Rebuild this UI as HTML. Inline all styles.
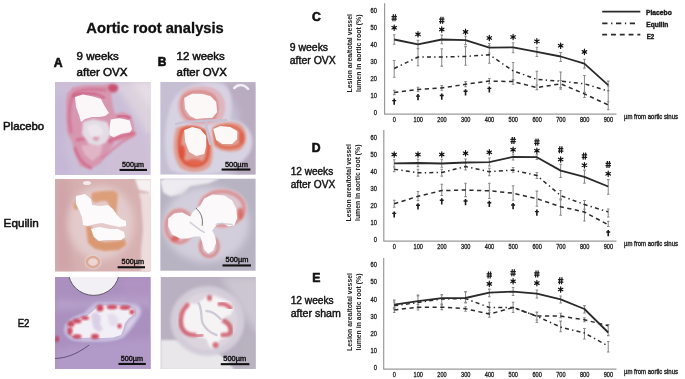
<!DOCTYPE html>
<html><head><meta charset="utf-8"><title>Aortic root analysis</title>
<style>
html,body{margin:0;padding:0;background:#fff;width:685px;height:379px;overflow:hidden}
svg{display:block;filter:blur(0.4px)}
text{font-family:"Liberation Sans",sans-serif}
</style></head><body>
<svg width="685" height="379" viewBox="0 0 685 379">
<defs><filter id="sb" x="-50%" y="-50%" width="200%" height="200%"><feGaussianBlur stdDeviation="0.45"/></filter></defs>
<rect width="685" height="379" fill="#fff"/>
<defs>
<filter id="b05" x="-20%" y="-20%" width="140%" height="140%"><feGaussianBlur stdDeviation="0.5"/></filter>
<filter id="b1" x="-20%" y="-20%" width="140%" height="140%"><feGaussianBlur stdDeviation="0.9"/></filter>
<filter id="b2" x="-30%" y="-30%" width="160%" height="160%"><feGaussianBlur stdDeviation="1.6"/></filter>
<filter id="b4" x="-50%" y="-50%" width="200%" height="200%"><feGaussianBlur stdDeviation="3.5"/></filter>

<clipPath id="cA1"><rect x="0" y="0" width="95.5" height="92.9"/></clipPath>
<clipPath id="cB1"><rect x="0" y="0" width="95.3" height="92.6"/></clipPath>
<clipPath id="cA2"><rect x="0" y="0" width="95.5" height="92.5"/></clipPath>
<clipPath id="cB2"><rect x="0" y="0" width="95.4" height="92.4"/></clipPath>
<clipPath id="cA3"><rect x="0" y="0" width="95.6" height="92"/></clipPath>
<clipPath id="cB3"><rect x="0" y="0" width="95.2" height="92"/></clipPath>
</defs>
<g transform="translate(55,82)"><g clip-path="url(#cA1)">
<rect x="0.0" y="0.0" width="100.0" height="100.0" fill="#cbbfd8" opacity="1"/>
<polygon points="58.0,0.0 100.0,0.0 100.0,75.0 88.0,45.0 72.0,20.0" fill="#dcd2de" opacity="1" filter="url(#b4)"/>
<polygon points="75.0,0.0 100.0,0.0 100.0,30.0" fill="#e6dde6" opacity="1" filter="url(#b4)"/>
<polygon points="0.0,20.0 8.0,10.0 10.0,40.0 8.0,70.0 18.0,90.0 0.0,93.0" fill="#c2b2d4" opacity="0.7" filter="url(#b4)"/>
<polygon points="12.0,12.0 18.0,5.0 30.0,3.0 48.0,3.0 55.0,2.0 63.0,4.0 62.0,10.0 56.0,12.0 58.0,25.0 60.0,32.0 68.0,30.0 75.0,33.0 78.0,40.0 80.0,50.0 78.0,56.0 70.0,58.0 60.0,60.0 52.0,72.0 45.0,82.0 35.0,87.0 25.0,84.0 20.0,72.0 17.0,60.0 12.0,50.0 11.0,35.0 11.0,20.0" fill="#d797af" opacity="1" filter="url(#b1)"/>
<ellipse cx="58.0" cy="6.0" rx="5.0" ry="4.0" fill="#c94a6c" opacity="0.9" filter="url(#b1)"/>
<path d="M16,50 C13,36 14,20 19,12 C24,7 36,7 50,8" fill="none" opacity="0.7" filter="url(#b1)" stroke="#cf6a8c" stroke-width="3.00" stroke-linecap="round" stroke-linejoin="round"/>
<path d="M18,14 C24,11 33,11 40,12 C44,13 47,14 49,16" fill="none" opacity="0.85" filter="url(#b1)" stroke="#c8476f" stroke-width="1.80" stroke-linecap="round" stroke-linejoin="round"/>
<path d="M22,58 C30,56 45,56 56,60 M20,66 C24,78 30,84 36,86" fill="none" opacity="0.7" filter="url(#b1)" stroke="#d15a7e" stroke-width="2.50" stroke-linecap="round" stroke-linejoin="round"/>
<polygon points="26.0,64.0 38.0,62.0 48.0,64.0 45.0,73.0 37.0,79.0 30.0,73.0" fill="#e2b9c9" opacity="0.9" filter="url(#b1)"/>
<polygon points="62.0,62.0 80.0,56.0 96.0,50.0 96.0,93.0 50.0,93.0 52.0,80.0" fill="#cfc0d8" opacity="0.8" filter="url(#b2)"/>
<path d="M47,76 C55,70 62,63 70,58 C74,55 77,53 80,52" fill="none" opacity="0.9" filter="url(#b1)" stroke="#d9819d" stroke-width="2.50" stroke-linecap="round" stroke-linejoin="round"/>
<polygon points="28.0,40.0 38.0,37.0 52.0,40.0 56.0,50.0 52.0,60.0 44.0,64.0 34.0,62.0 27.0,52.0" fill="#e3dce5" opacity="1" filter="url(#b1)"/>
<ellipse cx="41.0" cy="56.0" rx="3.0" ry="3.0" fill="#d98ca8" opacity="0.8" filter="url(#b1)"/>
<polygon points="20.0,15.0 28.0,12.5 38.0,14.5 46.0,17.0 49.0,23.0 52.0,28.0 54.0,31.0 50.0,34.0 44.0,35.0 37.0,35.0 30.0,37.0 26.0,40.0 24.0,33.0 21.0,25.0" fill="#fbf7f8" opacity="1" filter="url(#b05)"/>
<polygon points="55.8,37.5 64.3,35.9 74.8,38.6 77.0,47.0 74.8,50.7 66.4,51.8 59.0,55.5 54.5,53.0 54.8,43.8" fill="#fbf7f8" opacity="1" filter="url(#b05)"/>
<path d="M55,58 C62,56 70,53 79,51" fill="none" opacity="0.9" filter="url(#b1)" stroke="#d4587c" stroke-width="2.20" stroke-linecap="round" stroke-linejoin="round"/>
<path d="M63,34.5 C67,33 71,33.5 75,36" fill="none" opacity="0.9" filter="url(#b1)" stroke="#cf4f74" stroke-width="2.20" stroke-linecap="round" stroke-linejoin="round"/>
<polygon points="32.0,45.0 40.0,42.0 47.0,46.0 48.0,52.0 42.0,55.0 35.0,54.0" fill="#efe8ee" opacity="0.9" filter="url(#b1)"/>
</g>
<rect x="64.5" y="86.9" width="27.5" height="2.1" fill="#111"/><text x="67.0" y="84.8" font-size="6.3" fill="#111" stroke="#111" stroke-width="0.35" textLength="22.0" lengthAdjust="spacingAndGlyphs">500µm</text>
</g>
<g transform="translate(160.2,82)"><g clip-path="url(#cB1)">
<rect x="0.0" y="0.0" width="100.0" height="100.0" fill="#c6bfd3" opacity="1"/>
<polygon points="62.0,0.0 100.0,0.0 100.0,100.0 70.0,100.0 80.0,70.0 78.0,30.0" fill="#b9abc0" opacity="1" filter="url(#b4)"/>
<path d="M74,6 C78,2 84,2 88,7" fill="none" opacity="1" filter="url(#b05)" stroke="#f1eff4" stroke-width="2.50" stroke-linecap="round" stroke-linejoin="round"/>
<path d="M10,88 C2,70 4,40 12,20 C20,4 42,-2 62,2 C74,6 72,30 70,38 C84,38 94,50 92,63 C90,76 76,86 60,90 C45,94 25,94 10,88 Z" fill="#d8d3e2" opacity="1" filter="url(#b2)"/>
<path d="M28,41 C16,38 13,16 26,7 C38,2 54,3 61,12 C67,20 66,32 60,40 C50,44 38,44 28,41 Z" fill="#ddb6bf" opacity="1" filter="url(#b1)"/>
<path d="M16,46 C12,60 12,76 20,86 C30,92 44,91 50,84 C55,74 52,58 47,48 C38,42 24,42 16,46 Z" fill="#dfa097" opacity="1" filter="url(#b1)"/>
<path d="M52,46 C56,40 72,38 80,42 C88,48 88,62 80,68 C72,71 60,70 54,64 Z" fill="#dfa097" opacity="1" filter="url(#b1)"/>
<path d="M24,14 C30,9 44,8 52,13 C58,18 58,30 54,36 C46,40 34,40 27,36 C21,30 20,20 24,14 Z" fill="none" stroke="#dc8580" stroke-width="2.6" filter="url(#b1)" opacity="1"/>
<path d="M22,48 C18,58 18,72 24,80 C32,86 42,84 46,78 C50,68 48,56 44,50 C36,45 28,45 22,48 Z" fill="none" stroke="#e05a40" stroke-width="3.5" filter="url(#b1)" opacity="1"/>
<path d="M54,48 C60,43 72,43 78,47 C84,52 84,60 78,64 C70,67 60,66 56,61 Z" fill="none" stroke="#e06a50" stroke-width="3" filter="url(#b1)" opacity="1"/>
<ellipse cx="22.0" cy="70.0" rx="3.0" ry="7.0" fill="#e05038" opacity="0.9" filter="url(#b1)"/>
<ellipse cx="34.0" cy="80.0" rx="8.0" ry="3.0" fill="#e05a40" opacity="0.8" filter="url(#b1)"/>
<ellipse cx="47.0" cy="16.0" rx="2.5" ry="2.5" fill="#e0604a" opacity="0.9" filter="url(#b1)"/>
<ellipse cx="81.0" cy="56.0" rx="2.5" ry="6.0" fill="#e0604a" opacity="0.9" filter="url(#b1)"/>
<polygon points="24.0,16.0 32.0,11.7 42.0,12.0 50.0,14.0 56.0,20.0 57.0,30.0 52.0,36.0 44.0,36.0 36.0,37.0 30.0,34.0 25.0,27.0" fill="#fbf8f7" opacity="1" filter="url(#b05)"/>
<polygon points="24.0,48.0 32.0,45.0 40.0,47.0 46.0,54.0 46.0,64.0 44.0,72.0 36.0,74.0 29.0,70.0 25.0,60.0" fill="#fbf8f7" opacity="1" filter="url(#b05)"/>
<polygon points="53.0,47.0 60.0,44.0 70.0,45.0 77.0,49.0 77.0,57.0 72.0,62.0 62.0,62.0 56.0,58.0" fill="#fbf8f7" opacity="1" filter="url(#b05)"/>
<path d="M16,42 C26,38 36,40 44,39 C52,37 58,40 66,38 M46,39 C45,46 48,54 50,62" fill="none" opacity="1" filter="url(#b05)" stroke="#c7c1d3" stroke-width="2.40" stroke-linecap="round" stroke-linejoin="round"/>
</g>
<rect x="61.4" y="86.5" width="28.8" height="2.1" fill="#111"/><text x="64.7" y="84.6" font-size="6.3" fill="#111" stroke="#111" stroke-width="0.35" textLength="23.0" lengthAdjust="spacingAndGlyphs">500µm</text>
</g>
<g transform="translate(55,179)"><g clip-path="url(#cA2)">
<rect x="0.0" y="0.0" width="100.0" height="100.0" fill="#d7b1b2" opacity="1"/>
<polygon points="0.0,0.0 16.0,0.0 14.0,50.0 18.0,93.0 0.0,93.0" fill="#cca0a6" opacity="0.7" filter="url(#b4)"/>
<polygon points="84.0,14.0 100.0,14.0 100.0,93.0 86.0,93.0 86.0,72.0 88.0,50.0 86.0,22.0" fill="#ecdcdb" opacity="1" filter="url(#b1)"/>
<polygon points="80.0,0.0 100.0,0.0 100.0,18.0 95.0,17.0 94.0,13.0 84.0,11.0" fill="#f6f1f1" opacity="1" filter="url(#b1)"/>
<ellipse cx="32.0" cy="4.0" rx="4.0" ry="2.0" fill="#f3ecec" opacity="1"/>
<ellipse cx="46.0" cy="44.0" rx="33.0" ry="37.0" fill="#e3cbcb" opacity="1" filter="url(#b4)"/>
<polygon points="37.0,13.5 48.0,12.0 59.0,11.5 63.0,15.0 62.0,26.0 61.0,38.0 57.0,37.0 55.0,28.0 52.0,22.0 46.0,22.0 40.0,24.0 36.0,20.0" fill="#dc9f7a" opacity="1" filter="url(#b1)"/>
<ellipse cx="21.0" cy="27.0" rx="2.5" ry="4.0" fill="#dca07c" opacity="0.9" filter="url(#b1)"/>
<polygon points="31.0,47.0 36.0,47.0 39.0,56.0 42.0,61.0 50.0,63.0 62.0,62.0 70.0,60.0 71.0,66.0 64.0,71.0 50.0,72.0 40.0,70.0 33.0,64.0" fill="#da9872" opacity="1" filter="url(#b1)"/>
<polygon points="21.0,17.0 30.0,15.0 36.0,20.0 37.0,26.0 45.0,27.0 53.0,26.0 58.0,30.0 62.0,36.0 66.0,40.0 71.0,42.0 71.0,47.0 64.0,48.0 55.0,46.0 47.0,44.0 40.0,45.0 33.0,47.0 28.0,46.0 27.0,38.0 24.0,31.0 21.0,25.0" fill="#fcfafa" opacity="1"/>
<polygon points="36.0,50.0 44.0,48.0 55.0,50.0 63.0,50.0 69.0,53.0 70.0,58.0 66.0,61.0 58.0,61.0 50.0,61.0 44.0,62.0 39.0,58.0" fill="#fcfafa" opacity="1"/>
<ellipse cx="38.0" cy="83.0" rx="8.0" ry="7.0" fill="#ebdad8" opacity="0.9" filter="url(#b1)"/>
<ellipse cx="38.0" cy="83.0" rx="6.0" ry="5.0" fill="none" opacity="0.8" stroke="#d9a085" stroke-width="2.40"/>
</g>
<rect x="62.6" y="87.2" width="27.4" height="2.1" fill="#111"/><text x="66.6" y="84.5" font-size="6.3" fill="#111" stroke="#111" stroke-width="0.35" textLength="22.4" lengthAdjust="spacingAndGlyphs">500µm</text>
</g>
<g transform="translate(160.2,178.4)"><g clip-path="url(#cB2)">
<rect x="0.0" y="0.0" width="100.0" height="100.0" fill="#b8b3c3" opacity="1"/>
<polygon points="0.0,2.0 5.0,0.0 60.0,0.0 48.0,5.0 30.0,8.0 22.0,16.0 10.0,18.0 3.0,14.0" fill="#eeecf0" opacity="1" filter="url(#b1)"/>
<ellipse cx="46.0" cy="46.0" rx="43.0" ry="38.0" fill="#d2cedb" opacity="1" filter="url(#b4)"/>
<ellipse cx="19.0" cy="48.0" rx="16.0" ry="19.0" fill="#dcc8d0" opacity="1" filter="url(#b1)"/>
<ellipse cx="62.0" cy="30.0" rx="25.0" ry="20.0" fill="#dcc8d0" opacity="1" filter="url(#b1)"/>
<ellipse cx="49.0" cy="68.0" rx="11.0" ry="12.0" fill="#dcc8d0" opacity="1" filter="url(#b1)"/>
<ellipse cx="19.0" cy="48.0" rx="13.0" ry="16.0" fill="none" opacity="1" filter="url(#b1)" stroke="#d9959a" stroke-width="4.00"/>
<ellipse cx="62.0" cy="30.0" rx="22.0" ry="17.0" fill="none" opacity="1" filter="url(#b1)" stroke="#d9959a" stroke-width="4.00"/>
<ellipse cx="49.0" cy="68.0" rx="9.0" ry="10.0" fill="none" opacity="1" filter="url(#b1)" stroke="#d68a90" stroke-width="3.00"/>
<ellipse cx="15.0" cy="60.0" rx="4.0" ry="3.0" fill="#d9605a" opacity="0.9" filter="url(#b1)"/>
<ellipse cx="80.0" cy="35.0" rx="3.0" ry="6.0" fill="#d9605a" opacity="0.8" filter="url(#b1)"/>
<polygon points="8.0,40.0 14.0,35.0 22.0,34.0 30.0,38.0 33.0,33.0 40.0,27.0 44.0,20.0 52.0,16.0 64.0,17.0 72.0,22.0 76.0,30.0 77.0,40.0 74.0,47.0 68.0,48.0 62.0,44.0 56.0,47.0 52.0,52.0 55.0,58.0 56.0,64.0 53.0,72.0 48.0,75.0 44.0,71.0 42.0,64.0 40.0,58.0 34.0,58.0 28.0,60.0 20.0,60.0 12.0,56.0 8.0,48.0" fill="#fbf9fa" opacity="1" filter="url(#b05)"/>
<path d="M36,30 C41,34 43,40 42,47" fill="none" opacity="0.8" filter="url(#b05)" stroke="#3a3a44" stroke-width="0.90" stroke-linecap="round" stroke-linejoin="round"/>
<path d="M30,44 C35,48 40,52 44,54 M56,46 C60,44 66,46 72,46" fill="none" opacity="0.9" filter="url(#b05)" stroke="#cfcad6" stroke-width="1.50" stroke-linecap="round" stroke-linejoin="round"/>
</g>
<rect x="62.3" y="86.0" width="28.5" height="2.1" fill="#111"/><text x="65.4" y="83.8" font-size="6.3" fill="#111" stroke="#111" stroke-width="0.35" textLength="22.9" lengthAdjust="spacingAndGlyphs">500µm</text>
</g>
<g transform="translate(55,277)"><g clip-path="url(#cA3)">
<rect x="0.0" y="0.0" width="100.0" height="100.0" fill="#aa90bf" opacity="1"/>
<polygon points="0.0,72.0 40.0,66.0 100.0,60.0 100.0,100.0 0.0,100.0" fill="#b39ccb" opacity="0.8" filter="url(#b4)"/>
<polygon points="0.0,22.0 30.0,24.0 70.0,18.0 100.0,20.0 100.0,30.0 60.0,30.0 0.0,34.0" fill="#bba7cd" opacity="0.7" filter="url(#b4)"/>
<polygon points="65.0,0.0 100.0,0.0 100.0,25.0 70.0,22.0" fill="#b495c4" opacity="0.6" filter="url(#b4)"/>
<path d="M9,51 C10,44 20,38 29,36 C34,30 38,26 42,25.5 C55,25 70,25 80,26.5 C86,28 88,34 86,38 C80,48 74,56 68,61 C60,64 50,65 43,65 C32,65 22,65 16,63 C11,60 8,56 9,51 Z" fill="#c3b5db" opacity="1" filter="url(#b1)"/>
<path d="M12,51 C13,45 21,41 30,39 C35,33 39,29 43,28.5 C55,28 70,28 79,29.5 C84,31 85,35 83,38 C78,47 72,54 67,59 C60,61.5 50,62.5 43,62.5 C32,62.5 23,62.5 18,61 C13,58 11,55 12,51 Z" fill="#dcd3e6" opacity="1" filter="url(#b1)"/>
<ellipse cx="38.8" cy="-6.0" rx="25.5" ry="24.4" fill="#f2f0f4" opacity="1" stroke="#55505e" stroke-width="0.90"/>
<polygon points="13.0,50.0 18.0,44.0 26.0,41.0 32.0,39.0 38.0,34.0 43.0,29.0 52.0,28.5 62.0,28.5 72.0,29.5 79.0,32.0 80.0,37.0 74.0,41.0 70.0,46.0 68.0,53.0 66.0,58.0 58.0,60.5 48.0,61.0 42.0,61.0 36.0,60.5 28.0,61.0 20.0,60.0 15.0,57.0" fill="none" stroke="#c4b9dc" stroke-width="5" stroke-linejoin="round" opacity="1" filter="url(#b1)"/>
<polygon points="13.0,50.0 18.0,44.0 26.0,41.0 32.0,39.0 38.0,34.0 43.0,29.0 52.0,28.5 62.0,28.5 72.0,29.5 79.0,32.0 80.0,37.0 74.0,41.0 70.0,46.0 68.0,53.0 66.0,58.0 58.0,60.5 48.0,61.0 42.0,61.0 36.0,60.5 28.0,61.0 20.0,60.0 15.0,57.0" fill="#f3eff6" opacity="1"/>
<polygon points="36.0,37.0 42.0,35.0 46.0,40.0 45.0,47.0 48.0,52.0 44.0,55.0 39.0,52.0 37.0,45.0" fill="#d6cbe3" opacity="0.85" filter="url(#b1)"/>
<polygon points="52.0,38.0 58.0,36.0 64.0,42.0 61.0,49.0 55.0,49.0" fill="#dfd6e9" opacity="0.7" filter="url(#b1)"/>
<ellipse cx="16.0" cy="47.0" rx="3.5" ry="3.0" fill="#c93a52" opacity="0.9" filter="url(#b1)"/>
<ellipse cx="22.0" cy="44.0" rx="4.5" ry="2.5" fill="#c93a52" opacity="0.9" filter="url(#b1)"/>
<ellipse cx="30.0" cy="41.0" rx="4.0" ry="2.0" fill="#c93a52" opacity="0.9" filter="url(#b1)"/>
<ellipse cx="15.0" cy="54.0" rx="2.5" ry="4.0" fill="#c93a52" opacity="0.9" filter="url(#b1)"/>
<ellipse cx="22.0" cy="59.5" rx="4.5" ry="2.2" fill="#c93a52" opacity="0.9" filter="url(#b1)"/>
<ellipse cx="45.0" cy="31.0" rx="3.5" ry="3.5" fill="#c93a52" opacity="0.9" filter="url(#b1)"/>
<ellipse cx="57.0" cy="30.0" rx="5.5" ry="2.3" fill="#c93a52" opacity="0.9" filter="url(#b1)"/>
<ellipse cx="70.0" cy="30.5" rx="5.5" ry="2.3" fill="#c93a52" opacity="0.9" filter="url(#b1)"/>
<ellipse cx="77.0" cy="35.0" rx="2.5" ry="2.5" fill="#c93a52" opacity="0.9" filter="url(#b1)"/>
<ellipse cx="64.5" cy="49.0" rx="2.2" ry="2.5" fill="#c93a52" opacity="0.9" filter="url(#b1)"/>
<ellipse cx="40.0" cy="59.5" rx="4.0" ry="2.8" fill="#c93a52" opacity="0.9" filter="url(#b1)"/>
<ellipse cx="2.0" cy="62.0" rx="2.0" ry="3.0" fill="#c93a52" opacity="0.9" filter="url(#b1)"/>
<path d="M0,81.5 C10,81 20,78.5 33.8,68.3" fill="none" opacity="0.85" stroke="#4a3a66" stroke-width="0.90" stroke-linecap="round" stroke-linejoin="round"/>
</g>
<rect x="63.5" y="85.9" width="27.3" height="2.1" fill="#111"/><text x="65.8" y="84.2" font-size="6.3" fill="#111" stroke="#111" stroke-width="0.35" textLength="22.2" lengthAdjust="spacingAndGlyphs">500µm</text>
</g>
<g transform="translate(160.5,277)"><g clip-path="url(#cB3)">
<rect x="0.0" y="0.0" width="100.0" height="100.0" fill="#b9b1c1" opacity="1"/>
<polygon points="60.0,0.0 100.0,0.0 100.0,60.0 85.0,40.0 70.0,15.0" fill="#d0ccd6" opacity="0.8" filter="url(#b4)"/>
<polygon points="0.0,63.0 20.0,63.0 36.0,66.0 53.0,73.0 65.0,82.0 74.0,93.0 0.0,93.0" fill="#e9e7ea" opacity="1" filter="url(#b1)"/>
<polygon points="82.0,60.0 100.0,55.0 100.0,93.0 80.0,93.0" fill="#b9b4c0" opacity="0.6" filter="url(#b2)"/>
<ellipse cx="47.0" cy="44.0" rx="37.0" ry="35.0" fill="#d3cdd9" opacity="1" filter="url(#b2)"/>
<ellipse cx="47.0" cy="44.0" rx="30.0" ry="29.0" fill="#ddd6de" opacity="0.9" filter="url(#b1)"/>
<polygon points="22.0,30.0 28.0,26.0 36.0,27.0 40.0,24.0 46.0,20.0 54.0,19.0 62.0,22.0 70.0,25.0 73.0,32.0 70.0,38.0 64.0,40.0 60.0,46.0 66.0,48.0 70.0,54.0 66.0,60.0 60.0,62.0 56.0,68.0 52.0,72.0 48.0,68.0 46.0,62.0 40.0,60.0 32.0,58.0 25.0,54.0 21.0,46.0 20.0,38.0" fill="#f6f3f5" opacity="1" filter="url(#b1)"/>
<path d="M38,26 C42,32 40,40 42,46 C45,52 50,56 56,58 M46,34 C52,34 56,38 60,42" fill="none" opacity="1" stroke="#d0cad6" stroke-width="2.40" stroke-linecap="round" stroke-linejoin="round"/>
<path d="M27,28 C21,33 19,42 21,50 C23,55 28,58 34,58" fill="none" opacity="0.85" filter="url(#b1)" stroke="#cf5868" stroke-width="4.50" stroke-linecap="round" stroke-linejoin="round"/>
<path d="M36,59 C38,59 40,58 42,58" fill="none" opacity="0.8" filter="url(#b1)" stroke="#cf5868" stroke-width="3.00" stroke-linecap="round" stroke-linejoin="round"/>
<path d="M59,27 C63,26 67,28 70,31" fill="none" opacity="0.85" filter="url(#b1)" stroke="#cf5868" stroke-width="4.00" stroke-linecap="round" stroke-linejoin="round"/>
<path d="M64,44 C68,46 71,50 70,56 C68,58 65,58 62,58" fill="none" opacity="0.85" filter="url(#b1)" stroke="#cf5868" stroke-width="4.50" stroke-linecap="round" stroke-linejoin="round"/>
<ellipse cx="49.0" cy="21.0" rx="2.5" ry="3.0" fill="#cf5868" opacity="0.85" filter="url(#b1)"/>
<ellipse cx="55.0" cy="68.0" rx="3.0" ry="3.0" fill="#cf5868" opacity="0.85" filter="url(#b1)"/>
</g>
<rect x="60.3" y="86.1" width="28.6" height="2.1" fill="#111"/><text x="62.8" y="84.2" font-size="6.3" fill="#111" stroke="#111" stroke-width="0.35" textLength="22.9" lengthAdjust="spacingAndGlyphs">500µm</text>
</g>
<text x="86.3" y="33" font-size="15" font-weight="bold" textLength="137.5" lengthAdjust="spacingAndGlyphs" fill="#111" stroke="#111" stroke-width="0.3">Aortic root analysis</text>
<text x="53.8" y="66.9" font-size="12.3" font-weight="bold" fill="#111" stroke="#111" stroke-width="0.6">A</text>
<text x="157.8" y="66.3" font-size="12.0" font-weight="bold" fill="#111" stroke="#111" stroke-width="0.6">B</text>
<text x="76.6" y="59.8" font-size="11" textLength="42.2" lengthAdjust="spacingAndGlyphs" fill="#111" stroke="#111" stroke-width="0.5">9 weeks</text>
<text x="76.6" y="75.5" font-size="11" textLength="50.9" lengthAdjust="spacingAndGlyphs" fill="#111" stroke="#111" stroke-width="0.5">after OVX</text>
<text x="176.6" y="59.8" font-size="11" textLength="48.2" lengthAdjust="spacingAndGlyphs" fill="#111" stroke="#111" stroke-width="0.5">12 weeks</text>
<text x="176.6" y="75.5" font-size="11" textLength="50.2" lengthAdjust="spacingAndGlyphs" fill="#111" stroke="#111" stroke-width="0.5">after OVX</text>
<text x="3.0" y="129.9" font-size="11" textLength="41.2" lengthAdjust="spacingAndGlyphs" fill="#111" stroke="#111" stroke-width="0.5">Placebo</text>
<text x="3.6" y="226.5" font-size="11" textLength="35.2" lengthAdjust="spacingAndGlyphs" fill="#111" stroke="#111" stroke-width="0.5">Equilin</text>
<text x="17.7" y="326.5" font-size="11" textLength="11.8" lengthAdjust="spacingAndGlyphs" fill="#111" stroke="#111" stroke-width="0.5">E2</text>
<text x="312.0" y="20.5" font-size="12.2" font-weight="bold" fill="#111" stroke="#111" stroke-width="0.6">C</text>
<text x="311.8" y="151.7" font-size="12.2" font-weight="bold" fill="#111" stroke="#111" stroke-width="0.6">D</text>
<text x="312.3" y="282.0" font-size="12.2" font-weight="bold" fill="#111" stroke="#111" stroke-width="0.6">E</text>
<text x="289.8" y="51.1" font-size="10" textLength="38.3" lengthAdjust="spacingAndGlyphs" fill="#111" stroke="#111" stroke-width="0.4">9 weeks</text>
<text x="289.8" y="64.3" font-size="10" textLength="46" lengthAdjust="spacingAndGlyphs" fill="#111" stroke="#111" stroke-width="0.4">after OVX</text>
<text x="290.7" y="174.8" font-size="10" textLength="42.5" lengthAdjust="spacingAndGlyphs" fill="#111" stroke="#111" stroke-width="0.4">12 weeks</text>
<text x="290.7" y="187.6" font-size="10" textLength="44.5" lengthAdjust="spacingAndGlyphs" fill="#111" stroke="#111" stroke-width="0.4">after OVX</text>
<text x="290.7" y="304" font-size="10" textLength="43" lengthAdjust="spacingAndGlyphs" fill="#111" stroke="#111" stroke-width="0.4">12 weeks</text>
<text x="290.7" y="317.1" font-size="10" textLength="50.2" lengthAdjust="spacingAndGlyphs" fill="#111" stroke="#111" stroke-width="0.4">after sham</text>
<path d="M602.2,11.6H640.3" stroke="#2a2a2a" stroke-width="1.6"/>
<path d="M602.2,23.4H635" stroke="#2a2a2a" stroke-width="1.6" stroke-dasharray="5.3,3.6,1.3,3.6"/>
<path d="M602.2,34.6H640.3" stroke="#2a2a2a" stroke-width="1.6" stroke-dasharray="4.9,3.9"/>
<text x="646.0" y="14.8" font-size="7" font-weight="bold" textLength="25.8" lengthAdjust="spacingAndGlyphs" fill="#1a1a1a" stroke="#1a1a1a" stroke-width="0.4">Placebo</text>
<text x="646.3" y="27.0" font-size="7" font-weight="bold" textLength="22" lengthAdjust="spacingAndGlyphs" fill="#1a1a1a" stroke="#1a1a1a" stroke-width="0.4">Equilin</text>
<text x="646.7" y="38.5" font-size="7" font-weight="bold" textLength="7.6" lengthAdjust="spacingAndGlyphs" fill="#1a1a1a" stroke="#1a1a1a" stroke-width="0.4">E2</text>
<path d="M384.6,3.3V114.2H616.5" fill="none" stroke="#9a9a9a" stroke-width="1.2"/>
<text x="377" y="115.3" text-anchor="end" font-size="6.6" fill="#222" stroke="#222" stroke-width="0.3" textLength="3.2" lengthAdjust="spacingAndGlyphs">0</text>
<text x="377" y="98.3" text-anchor="end" font-size="6.6" fill="#222" stroke="#222" stroke-width="0.3" textLength="6.4" lengthAdjust="spacingAndGlyphs">10</text>
<text x="377" y="81.2" text-anchor="end" font-size="6.6" fill="#222" stroke="#222" stroke-width="0.3" textLength="6.4" lengthAdjust="spacingAndGlyphs">20</text>
<text x="377" y="64.2" text-anchor="end" font-size="6.6" fill="#222" stroke="#222" stroke-width="0.3" textLength="6.4" lengthAdjust="spacingAndGlyphs">30</text>
<text x="377" y="47.1" text-anchor="end" font-size="6.6" fill="#222" stroke="#222" stroke-width="0.3" textLength="6.4" lengthAdjust="spacingAndGlyphs">40</text>
<text x="377" y="30.1" text-anchor="end" font-size="6.6" fill="#222" stroke="#222" stroke-width="0.3" textLength="6.4" lengthAdjust="spacingAndGlyphs">50</text>
<text x="377" y="13.0" text-anchor="end" font-size="6.6" fill="#222" stroke="#222" stroke-width="0.3" textLength="6.4" lengthAdjust="spacingAndGlyphs">60</text>
<text x="394.4" y="122.4" text-anchor="middle" font-size="6.6" fill="#222" stroke="#222" stroke-width="0.3" textLength="3.1" lengthAdjust="spacingAndGlyphs">0</text>
<text x="418.2" y="122.4" text-anchor="middle" font-size="6.6" fill="#222" stroke="#222" stroke-width="0.3" textLength="9.4" lengthAdjust="spacingAndGlyphs">100</text>
<text x="442.0" y="122.4" text-anchor="middle" font-size="6.6" fill="#222" stroke="#222" stroke-width="0.3" textLength="9.4" lengthAdjust="spacingAndGlyphs">200</text>
<text x="465.7" y="122.4" text-anchor="middle" font-size="6.6" fill="#222" stroke="#222" stroke-width="0.3" textLength="9.4" lengthAdjust="spacingAndGlyphs">300</text>
<text x="489.5" y="122.4" text-anchor="middle" font-size="6.6" fill="#222" stroke="#222" stroke-width="0.3" textLength="9.4" lengthAdjust="spacingAndGlyphs">400</text>
<text x="513.3" y="122.4" text-anchor="middle" font-size="6.6" fill="#222" stroke="#222" stroke-width="0.3" textLength="9.4" lengthAdjust="spacingAndGlyphs">500</text>
<text x="537.1" y="122.4" text-anchor="middle" font-size="6.6" fill="#222" stroke="#222" stroke-width="0.3" textLength="9.4" lengthAdjust="spacingAndGlyphs">600</text>
<text x="560.9" y="122.4" text-anchor="middle" font-size="6.6" fill="#222" stroke="#222" stroke-width="0.3" textLength="9.4" lengthAdjust="spacingAndGlyphs">700</text>
<text x="584.6" y="122.4" text-anchor="middle" font-size="6.6" fill="#222" stroke="#222" stroke-width="0.3" textLength="9.4" lengthAdjust="spacingAndGlyphs">800</text>
<text x="608.4" y="122.4" text-anchor="middle" font-size="6.6" fill="#222" stroke="#222" stroke-width="0.3" textLength="9.4" lengthAdjust="spacingAndGlyphs">900</text>
<text x="624" y="118.9" font-size="6.6" fill="#222" stroke="#222" stroke-width="0.35" textLength="54" lengthAdjust="spacingAndGlyphs">µm from aortic sinus</text>
<path d="M394.20,34.80V44.30M392.90,34.80H395.50M392.90,44.30H395.50M417.98,40.20V48.60M416.68,40.20H419.28M416.68,48.60H419.28M441.76,35.10V43.80M440.46,35.10H443.06M440.46,43.80H443.06M465.54,36.20V44.60M464.24,36.20H466.84M464.24,44.60H466.84M489.32,43.50V52.90M488.02,43.50H490.62M488.02,52.90H490.62M513.10,42.70V52.70M511.80,42.70H514.40M511.80,52.70H514.40M536.88,47.20V56.40M535.58,47.20H538.18M535.58,56.40H538.18M560.66,52.40V61.40M559.36,52.40H561.96M559.36,61.40H561.96M584.44,59.20V68.10M583.14,59.20H585.74M583.14,68.10H585.74M608.22,81.10V90.60M606.92,81.10H609.52M606.92,90.60H609.52M394.20,60.50V77.20M392.90,60.50H395.50M392.90,77.20H395.50M417.98,48.60V65.80M416.68,48.60H419.28M416.68,65.80H419.28M441.76,48.70V66.10M440.46,48.70H443.06M440.46,66.10H443.06M465.54,46.60V65.20M464.24,46.60H466.84M464.24,65.20H466.84M489.32,45.80V63.20M488.02,45.80H490.62M488.02,63.20H490.62M513.10,62.40V80.30M511.80,62.40H514.40M511.80,80.30H514.40M536.88,71.30V89.50M535.58,71.30H538.18M535.58,89.50H538.18M560.66,71.90V89.10M559.36,71.90H561.96M559.36,89.10H561.96M584.44,75.40V92.70M583.14,75.40H585.74M583.14,92.70H585.74M608.22,85.90V101.70M606.92,85.90H609.52M606.92,101.70H609.52M394.20,90.20V94.60M392.90,90.20H395.50M392.90,94.60H395.50M417.98,87.20V91.40M416.68,87.20H419.28M416.68,91.40H419.28M441.76,85.60V90.30M440.46,85.60H443.06M440.46,90.30H443.06M465.54,81.60V86.70M464.24,81.60H466.84M464.24,86.70H466.84M489.32,78.40V83.80M488.02,78.40H490.62M488.02,83.80H490.62M513.10,79.50V84.30M511.80,79.50H514.40M511.80,84.30H514.40M536.88,85.00V89.80M535.58,85.00H538.18M535.58,89.80H538.18M560.66,80.50V87.50M559.36,80.50H561.96M559.36,87.50H561.96M584.44,92.20V97.50M583.14,92.20H585.74M583.14,97.50H585.74M608.22,101.70V109.70M606.92,101.70H609.52M606.92,109.70H609.52" fill="none" stroke="#8a8a8a" stroke-width="1.05"/>
<polyline points="394.2,92.6 418.0,89.4 441.8,88.0 465.5,84.3 489.3,81.1 513.1,81.6 536.9,87.6 560.7,83.8 584.4,93.9 608.2,104.9" fill="none" stroke="#2a2a2a" stroke-width="1.5" stroke-dasharray="4.2,3.5"/>
<polyline points="394.2,68.5 418.0,57.0 441.8,57.0 465.5,56.4 489.3,54.8 513.1,70.8 536.9,79.4 560.7,81.2 584.4,83.8 608.2,91.1" fill="none" stroke="#2a2a2a" stroke-width="1.5" stroke-dasharray="4,3.2,1.4,3.2"/>
<polyline points="394.2,39.5 418.0,44.3 441.8,39.5 465.5,40.2 489.3,47.7 513.1,47.3 536.9,51.8 560.7,56.5 584.4,63.7 608.2,85.1" fill="none" stroke="#2a2a2a" stroke-width="1.8" stroke-linejoin="round"/>
<path d="M394.20,25.00L394.20,30.40M391.98,26.42L396.42,28.98M396.42,26.42L391.98,28.98M417.98,31.60L417.98,37.00M415.76,33.02L420.20,35.58M420.20,33.02L415.76,35.58M441.76,26.80L441.76,32.20M439.54,28.22L443.98,30.78M443.98,28.22L439.54,30.78M465.54,29.20L465.54,34.60M463.32,30.62L467.76,33.18M467.76,30.62L463.32,33.18M489.32,35.30L489.32,40.70M487.10,36.72L491.54,39.28M491.54,36.72L487.10,39.28M513.10,34.30L513.10,39.70M510.88,35.72L515.32,38.28M515.32,35.72L510.88,38.28M536.88,38.60L536.88,44.00M534.66,40.02L539.10,42.58M539.10,40.02L534.66,42.58M560.66,43.00L560.66,48.40M558.44,44.42L562.88,46.98M562.88,44.42L558.44,46.98M584.44,49.20L584.44,54.60M582.22,50.62L586.66,53.18M586.66,50.62L582.22,53.18" fill="none" stroke="#111" stroke-width="1.2" stroke-linecap="round"/>
<circle cx="394.20" cy="27.70" r="1.1" fill="#111"/><circle cx="417.98" cy="34.30" r="1.1" fill="#111"/><circle cx="441.76" cy="29.50" r="1.1" fill="#111"/><circle cx="465.54" cy="31.90" r="1.1" fill="#111"/><circle cx="489.32" cy="38.00" r="1.1" fill="#111"/><circle cx="513.10" cy="37.00" r="1.1" fill="#111"/><circle cx="536.88" cy="41.30" r="1.1" fill="#111"/><circle cx="560.66" cy="45.70" r="1.1" fill="#111"/><circle cx="584.44" cy="51.90" r="1.1" fill="#111"/>
<path d="M393.40,14.30L392.90,21.30M395.50,14.30L395.00,21.30M391.50,16.60L396.90,16.60M391.50,19.00L396.90,19.00M440.96,16.80L440.46,23.80M443.06,16.80L442.56,23.80M439.06,19.10L444.46,19.10M439.06,21.50L444.46,21.50" fill="none" stroke="#1a1a1a" stroke-width="1.25"/>
<path d="M394.20,98.60L394.20,104.80M417.98,94.10L417.98,100.30M441.76,93.50L441.76,99.70M465.54,89.30L465.54,95.50M489.32,86.40L489.32,92.60" fill="none" stroke="#1a1a1a" stroke-width="1.6"/>
<path d="M392.20,100.58L396.20,100.58M415.98,96.08L419.98,96.08M439.76,95.48L443.76,95.48M463.54,91.28L467.54,91.28M487.32,88.38L491.32,88.38" fill="none" stroke="#1a1a1a" stroke-width="1.4"/>
<path d="M383.8,130V241.2H616.5" fill="none" stroke="#9a9a9a" stroke-width="1.2"/>
<text x="377" y="242.3" text-anchor="end" font-size="6.6" fill="#222" stroke="#222" stroke-width="0.3" textLength="3.2" lengthAdjust="spacingAndGlyphs">0</text>
<text x="377" y="225.2" text-anchor="end" font-size="6.6" fill="#222" stroke="#222" stroke-width="0.3" textLength="6.4" lengthAdjust="spacingAndGlyphs">10</text>
<text x="377" y="208.0" text-anchor="end" font-size="6.6" fill="#222" stroke="#222" stroke-width="0.3" textLength="6.4" lengthAdjust="spacingAndGlyphs">20</text>
<text x="377" y="190.9" text-anchor="end" font-size="6.6" fill="#222" stroke="#222" stroke-width="0.3" textLength="6.4" lengthAdjust="spacingAndGlyphs">30</text>
<text x="377" y="173.8" text-anchor="end" font-size="6.6" fill="#222" stroke="#222" stroke-width="0.3" textLength="6.4" lengthAdjust="spacingAndGlyphs">40</text>
<text x="377" y="156.7" text-anchor="end" font-size="6.6" fill="#222" stroke="#222" stroke-width="0.3" textLength="6.4" lengthAdjust="spacingAndGlyphs">50</text>
<text x="377" y="139.5" text-anchor="end" font-size="6.6" fill="#222" stroke="#222" stroke-width="0.3" textLength="6.4" lengthAdjust="spacingAndGlyphs">60</text>
<text x="394.4" y="249.4" text-anchor="middle" font-size="6.6" fill="#222" stroke="#222" stroke-width="0.3" textLength="3.1" lengthAdjust="spacingAndGlyphs">0</text>
<text x="418.2" y="249.4" text-anchor="middle" font-size="6.6" fill="#222" stroke="#222" stroke-width="0.3" textLength="9.4" lengthAdjust="spacingAndGlyphs">100</text>
<text x="442.0" y="249.4" text-anchor="middle" font-size="6.6" fill="#222" stroke="#222" stroke-width="0.3" textLength="9.4" lengthAdjust="spacingAndGlyphs">200</text>
<text x="465.7" y="249.4" text-anchor="middle" font-size="6.6" fill="#222" stroke="#222" stroke-width="0.3" textLength="9.4" lengthAdjust="spacingAndGlyphs">300</text>
<text x="489.5" y="249.4" text-anchor="middle" font-size="6.6" fill="#222" stroke="#222" stroke-width="0.3" textLength="9.4" lengthAdjust="spacingAndGlyphs">400</text>
<text x="513.3" y="249.4" text-anchor="middle" font-size="6.6" fill="#222" stroke="#222" stroke-width="0.3" textLength="9.4" lengthAdjust="spacingAndGlyphs">500</text>
<text x="537.1" y="249.4" text-anchor="middle" font-size="6.6" fill="#222" stroke="#222" stroke-width="0.3" textLength="9.4" lengthAdjust="spacingAndGlyphs">600</text>
<text x="560.9" y="249.4" text-anchor="middle" font-size="6.6" fill="#222" stroke="#222" stroke-width="0.3" textLength="9.4" lengthAdjust="spacingAndGlyphs">700</text>
<text x="584.6" y="249.4" text-anchor="middle" font-size="6.6" fill="#222" stroke="#222" stroke-width="0.3" textLength="9.4" lengthAdjust="spacingAndGlyphs">800</text>
<text x="608.4" y="249.4" text-anchor="middle" font-size="6.6" fill="#222" stroke="#222" stroke-width="0.3" textLength="9.4" lengthAdjust="spacingAndGlyphs">900</text>
<text x="624" y="245.9" font-size="6.6" fill="#222" stroke="#222" stroke-width="0.35" textLength="54" lengthAdjust="spacingAndGlyphs">µm from aortic sinus</text>
<path d="M394.20,159.80V166.90M392.90,159.80H395.50M392.90,166.90H395.50M417.98,159.30V166.60M416.68,159.30H419.28M416.68,166.60H419.28M441.76,159.30V167.30M440.46,159.30H443.06M440.46,167.30H443.06M465.54,159.00V166.10M464.24,159.00H466.84M464.24,166.10H466.84M489.32,157.90V165.90M488.02,157.90H490.62M488.02,165.90H490.62M513.10,154.00V160.00M511.80,154.00H514.40M511.80,160.00H514.40M536.88,154.80V159.50M535.58,154.80H538.18M535.58,159.50H538.18M560.66,164.30V177.40M559.36,164.30H561.96M559.36,177.40H561.96M584.44,170.10V183.30M583.14,170.10H585.74M583.14,183.30H585.74M608.22,179.60V194.20M606.92,179.60H609.52M606.92,194.20H609.52M394.20,166.90V171.70M392.90,166.90H395.50M392.90,171.70H395.50M417.98,169.30V176.10M416.68,169.30H419.28M416.68,176.10H419.28M441.76,169.30V176.10M440.46,169.30H443.06M440.46,176.10H443.06M465.54,163.00V170.00M464.24,163.00H466.84M464.24,170.00H466.84M489.32,168.20V175.80M488.02,168.20H490.62M488.02,175.80H490.62M513.10,167.40V172.20M511.80,167.40H514.40M511.80,172.20H514.40M536.88,172.50V178.50M535.58,172.50H538.18M535.58,178.50H538.18M560.66,190.40V199.90M559.36,190.40H561.96M559.36,199.90H561.96M584.44,200.40V209.30M583.14,200.40H585.74M583.14,209.30H585.74M608.22,209.00V217.00M606.92,209.00H609.52M606.92,217.00H609.52M394.20,200.30V207.30M392.90,200.30H395.50M392.90,207.30H395.50M417.98,191.40V200.60M416.68,191.40H419.28M416.68,200.60H419.28M441.76,184.30V195.50M440.46,184.30H443.06M440.46,195.50H443.06M465.54,183.20V196.60M464.24,183.20H466.84M464.24,196.60H466.84M489.32,183.20V198.40M488.02,183.20H490.62M488.02,198.40H490.62M513.10,185.80V200.30M511.80,185.80H514.40M511.80,200.30H514.40M536.88,191.10V206.30M535.58,191.10H538.18M535.58,206.30H538.18M560.66,199.00V215.30M559.36,199.00H561.96M559.36,215.30H561.96M584.44,204.20V221.00M583.14,204.20H585.74M583.14,221.00H585.74M608.22,221.30V226.50M606.92,221.30H609.52M606.92,226.50H609.52" fill="none" stroke="#8a8a8a" stroke-width="1.05"/>
<polyline points="394.2,203.8 418.0,196.3 441.8,190.6 465.5,190.0 489.3,190.8 513.1,193.2 536.9,198.7 560.7,206.7 584.4,212.0 608.2,224.8" fill="none" stroke="#2a2a2a" stroke-width="1.5" stroke-dasharray="4.2,3.5"/>
<polyline points="394.2,169.3 418.0,172.8 441.8,172.5 465.5,166.6 489.3,171.7 513.1,170.1 536.9,175.5 560.7,195.6 584.4,204.5 608.2,211.9" fill="none" stroke="#2a2a2a" stroke-width="1.5" stroke-dasharray="4,3.2,1.4,3.2"/>
<polyline points="394.2,163.3 418.0,163.0 441.8,163.5 465.5,162.5 489.3,162.2 513.1,156.8 536.9,157.2 560.7,170.6 584.4,176.9 608.2,186.5" fill="none" stroke="#2a2a2a" stroke-width="1.8" stroke-linejoin="round"/>
<path d="M394.20,151.80L394.20,157.20M391.98,153.22L396.42,155.78M396.42,153.22L391.98,155.78M417.98,151.80L417.98,157.20M415.76,153.22L420.20,155.78M420.20,153.22L415.76,155.78M441.76,151.80L441.76,157.20M439.54,153.22L443.98,155.78M443.98,153.22L439.54,155.78M465.54,150.60L465.54,156.00M463.32,152.02L467.76,154.58M467.76,152.02L463.32,154.58M489.32,149.60L489.32,155.00M487.10,151.02L491.54,153.58M491.54,151.02L487.10,153.58M513.10,147.00L513.10,152.40M510.88,148.42L515.32,150.98M515.32,148.42L510.88,150.98M536.88,148.00L536.88,153.40M534.66,149.42L539.10,151.98M539.10,149.42L534.66,151.98M560.66,156.80L560.66,162.20M558.44,158.22L562.88,160.78M562.88,158.22L558.44,160.78M584.44,162.50L584.44,167.90M582.22,163.92L586.66,166.48M586.66,163.92L582.22,166.48M608.22,171.10L608.22,176.50M606.00,172.52L610.44,175.08M610.44,172.52L606.00,175.08" fill="none" stroke="#111" stroke-width="1.2" stroke-linecap="round"/>
<circle cx="394.20" cy="154.50" r="1.1" fill="#111"/><circle cx="417.98" cy="154.50" r="1.1" fill="#111"/><circle cx="441.76" cy="154.50" r="1.1" fill="#111"/><circle cx="465.54" cy="153.30" r="1.1" fill="#111"/><circle cx="489.32" cy="152.30" r="1.1" fill="#111"/><circle cx="513.10" cy="149.70" r="1.1" fill="#111"/><circle cx="536.88" cy="150.70" r="1.1" fill="#111"/><circle cx="560.66" cy="159.50" r="1.1" fill="#111"/><circle cx="584.44" cy="165.20" r="1.1" fill="#111"/><circle cx="608.22" cy="173.80" r="1.1" fill="#111"/>
<path d="M512.30,137.00L511.80,144.00M514.40,137.00L513.90,144.00M510.40,139.30L515.80,139.30M510.40,141.70L515.80,141.70M536.08,138.60L535.58,145.60M538.18,138.60L537.68,145.60M534.18,140.90L539.58,140.90M534.18,143.30L539.58,143.30M559.86,146.30L559.36,153.30M561.96,146.30L561.46,153.30M557.96,148.60L563.36,148.60M557.96,151.00L563.36,151.00M583.64,152.60L583.14,159.60M585.74,152.60L585.24,159.60M581.74,154.90L587.14,154.90M581.74,157.30L587.14,157.30M607.42,161.00L606.92,168.00M609.52,161.00L609.02,168.00M605.52,163.30L610.92,163.30M605.52,165.70L610.92,165.70" fill="none" stroke="#1a1a1a" stroke-width="1.25"/>
<path d="M394.20,211.40L394.20,217.60M417.98,203.30L417.98,209.50M441.76,198.30L441.76,204.50M465.54,199.00L465.54,205.20M489.32,200.70L489.32,206.90M513.10,203.00L513.10,209.20M536.88,209.60L536.88,215.80M608.22,230.00L608.22,236.20" fill="none" stroke="#1a1a1a" stroke-width="1.6"/>
<path d="M392.20,213.38L396.20,213.38M415.98,205.28L419.98,205.28M439.76,200.28L443.76,200.28M463.54,200.98L467.54,200.98M487.32,202.68L491.32,202.68M511.10,204.98L515.10,204.98M534.88,211.58L538.88,211.58M606.22,231.98L610.22,231.98" fill="none" stroke="#1a1a1a" stroke-width="1.4"/>
<path d="M383.7,257.9V369.1H616.5" fill="none" stroke="#9a9a9a" stroke-width="1.2"/>
<text x="377" y="370.1" text-anchor="end" font-size="6.6" fill="#222" stroke="#222" stroke-width="0.3" textLength="3.2" lengthAdjust="spacingAndGlyphs">0</text>
<text x="377" y="353.0" text-anchor="end" font-size="6.6" fill="#222" stroke="#222" stroke-width="0.3" textLength="6.4" lengthAdjust="spacingAndGlyphs">10</text>
<text x="377" y="335.8" text-anchor="end" font-size="6.6" fill="#222" stroke="#222" stroke-width="0.3" textLength="6.4" lengthAdjust="spacingAndGlyphs">20</text>
<text x="377" y="318.7" text-anchor="end" font-size="6.6" fill="#222" stroke="#222" stroke-width="0.3" textLength="6.4" lengthAdjust="spacingAndGlyphs">30</text>
<text x="377" y="301.6" text-anchor="end" font-size="6.6" fill="#222" stroke="#222" stroke-width="0.3" textLength="6.4" lengthAdjust="spacingAndGlyphs">40</text>
<text x="377" y="284.4" text-anchor="end" font-size="6.6" fill="#222" stroke="#222" stroke-width="0.3" textLength="6.4" lengthAdjust="spacingAndGlyphs">50</text>
<text x="377" y="267.3" text-anchor="end" font-size="6.6" fill="#222" stroke="#222" stroke-width="0.3" textLength="6.4" lengthAdjust="spacingAndGlyphs">60</text>
<text x="394.4" y="377.3" text-anchor="middle" font-size="6.6" fill="#222" stroke="#222" stroke-width="0.3" textLength="3.1" lengthAdjust="spacingAndGlyphs">0</text>
<text x="418.2" y="377.3" text-anchor="middle" font-size="6.6" fill="#222" stroke="#222" stroke-width="0.3" textLength="9.4" lengthAdjust="spacingAndGlyphs">100</text>
<text x="442.0" y="377.3" text-anchor="middle" font-size="6.6" fill="#222" stroke="#222" stroke-width="0.3" textLength="9.4" lengthAdjust="spacingAndGlyphs">200</text>
<text x="465.7" y="377.3" text-anchor="middle" font-size="6.6" fill="#222" stroke="#222" stroke-width="0.3" textLength="9.4" lengthAdjust="spacingAndGlyphs">300</text>
<text x="489.5" y="377.3" text-anchor="middle" font-size="6.6" fill="#222" stroke="#222" stroke-width="0.3" textLength="9.4" lengthAdjust="spacingAndGlyphs">400</text>
<text x="513.3" y="377.3" text-anchor="middle" font-size="6.6" fill="#222" stroke="#222" stroke-width="0.3" textLength="9.4" lengthAdjust="spacingAndGlyphs">500</text>
<text x="537.1" y="377.3" text-anchor="middle" font-size="6.6" fill="#222" stroke="#222" stroke-width="0.3" textLength="9.4" lengthAdjust="spacingAndGlyphs">600</text>
<text x="560.9" y="377.3" text-anchor="middle" font-size="6.6" fill="#222" stroke="#222" stroke-width="0.3" textLength="9.4" lengthAdjust="spacingAndGlyphs">700</text>
<text x="584.6" y="377.3" text-anchor="middle" font-size="6.6" fill="#222" stroke="#222" stroke-width="0.3" textLength="9.4" lengthAdjust="spacingAndGlyphs">800</text>
<text x="608.4" y="377.3" text-anchor="middle" font-size="6.6" fill="#222" stroke="#222" stroke-width="0.3" textLength="9.4" lengthAdjust="spacingAndGlyphs">900</text>
<text x="624" y="373.8" font-size="6.6" fill="#222" stroke="#222" stroke-width="0.35" textLength="54" lengthAdjust="spacingAndGlyphs">µm from aortic sinus</text>
<path d="M394.20,300.10V308.30M392.90,300.10H395.50M392.90,308.30H395.50M417.98,294.90V307.20M416.68,294.90H419.28M416.68,307.20H419.28M441.76,294.60V304.10M440.46,294.60H443.06M440.46,304.10H443.06M465.54,291.50V302.30M464.24,291.50H466.84M464.24,302.30H466.84M489.32,289.10V296.70M488.02,289.10H490.62M488.02,296.70H490.62M513.10,287.50V295.40M511.80,287.50H514.40M511.80,295.40H514.40M536.88,290.00V298.00M535.58,290.00H538.18M535.58,298.00H538.18M560.66,295.90V303.00M559.36,295.90H561.96M559.36,303.00H561.96M584.44,305.60V313.00M583.14,305.60H585.74M583.14,313.00H585.74M608.22,324.40V335.60M606.92,324.40H609.52M606.92,335.60H609.52M394.20,302.00V309.00M392.90,302.00H395.50M392.90,309.00H395.50M417.98,296.00V308.00M416.68,296.00H419.28M416.68,308.00H419.28M441.76,295.00V305.00M440.46,295.00H443.06M440.46,305.00H443.06M465.54,292.00V303.00M464.24,292.00H466.84M464.24,303.00H466.84M489.32,302.20V312.50M488.02,302.20H490.62M488.02,312.50H490.62M513.10,302.20V312.50M511.80,302.20H514.40M511.80,312.50H514.40M536.88,312.00V320.00M535.58,312.00H538.18M535.58,320.00H538.18M560.66,321.10V331.70M559.36,321.10H561.96M559.36,331.70H561.96M584.44,328.40V338.90M583.14,328.40H585.74M583.14,338.90H585.74M608.22,341.50V352.00M606.92,341.50H609.52M606.92,352.00H609.52M394.20,307.50V312.50M392.90,307.50H395.50M392.90,312.50H395.50M417.98,304.50V310.00M416.68,304.50H419.28M416.68,310.00H419.28M441.76,304.90V309.60M440.46,304.90H443.06M440.46,309.60H443.06M465.54,306.80V311.20M464.24,306.80H466.84M464.24,311.20H466.84M489.32,310.20V317.30M488.02,310.20H490.62M488.02,317.30H490.62M513.10,302.20V312.50M511.80,302.20H514.40M511.80,312.50H514.40M536.88,312.50V322.40M535.58,312.50H538.18M535.58,322.40H538.18M560.66,313.20V317.80M559.36,313.20H561.96M559.36,317.80H561.96M584.44,317.80V321.80M583.14,317.80H585.74M583.14,321.80H585.74M608.22,324.40V335.60M606.92,324.40H609.52M606.92,335.60H609.52" fill="none" stroke="#8a8a8a" stroke-width="1.05"/>
<polyline points="394.2,309.9 418.0,307.2 441.8,307.2 465.5,308.7 489.3,314.1 513.1,307.5 536.9,316.1 560.7,316.1 584.4,319.8 608.2,325.7" fill="none" stroke="#2a2a2a" stroke-width="1.5" stroke-dasharray="4.2,3.5"/>
<polyline points="394.2,305.8 418.0,302.5 441.8,299.0 465.5,298.6 489.3,307.5 513.1,307.5 536.9,316.3 560.7,327.1 584.4,333.0 608.2,346.0" fill="none" stroke="#2a2a2a" stroke-width="1.5" stroke-dasharray="4,3.2,1.4,3.2"/>
<polyline points="394.2,304.7 418.0,301.2 441.8,298.2 465.5,298.0 489.3,292.7 513.1,291.6 536.9,293.7 560.7,299.4 584.4,309.0 608.2,332.5" fill="none" stroke="#2a2a2a" stroke-width="1.8" stroke-linejoin="round"/>
<path d="M489.32,281.20L489.32,286.60M487.10,282.62L491.54,285.18M491.54,282.62L487.10,285.18M513.10,278.60L513.10,284.00M510.88,280.02L515.32,282.58M515.32,280.02L510.88,282.58M536.88,280.40L536.88,285.80M534.66,281.82L539.10,284.38M539.10,281.82L534.66,284.38M560.66,286.80L560.66,292.20M558.44,288.22L562.88,290.78M562.88,288.22L558.44,290.78" fill="none" stroke="#111" stroke-width="1.2" stroke-linecap="round"/>
<circle cx="489.32" cy="283.90" r="1.1" fill="#111"/><circle cx="513.10" cy="281.30" r="1.1" fill="#111"/><circle cx="536.88" cy="283.10" r="1.1" fill="#111"/><circle cx="560.66" cy="289.50" r="1.1" fill="#111"/>
<path d="M488.52,271.50L488.02,278.50M490.62,271.50L490.12,278.50M486.62,273.80L492.02,273.80M486.62,276.20L492.02,276.20M512.30,269.30L511.80,276.30M514.40,269.30L513.90,276.30M510.40,271.60L515.80,271.60M510.40,274.00L515.80,274.00M536.08,270.50L535.58,277.50M538.18,270.50L537.68,277.50M534.18,272.80L539.58,272.80M534.18,275.20L539.58,275.20M559.86,277.30L559.36,284.30M561.96,277.30L561.46,284.30M557.96,279.60L563.36,279.60M557.96,282.00L563.36,282.00" fill="none" stroke="#1a1a1a" stroke-width="1.25"/>
<path d="" fill="none" stroke="#1a1a1a" stroke-width="1.6"/>
<path d="" fill="none" stroke="#1a1a1a" stroke-width="1.4"/>
<g transform="translate(354,53.25) rotate(-90)" font-size="6.6" font-weight="bold" fill="#222"><text x="0" y="-2.1" text-anchor="middle" textLength="78.5" lengthAdjust="spacingAndGlyphs">Lesion area/total vessel</text><text x="0" y="6.9" text-anchor="middle" textLength="77.5" lengthAdjust="spacingAndGlyphs">lumen in aortic root (%)</text></g>
<g transform="translate(353.5,182.75) rotate(-90)" font-size="6.6" font-weight="bold" fill="#222"><text x="0" y="-2.1" text-anchor="middle" textLength="77.5" lengthAdjust="spacingAndGlyphs">Lesion area/total vessel</text><text x="0" y="6.9" text-anchor="middle" textLength="76.5" lengthAdjust="spacingAndGlyphs">lumen in aortic root (%)</text></g>
<g transform="translate(353.7,312.0) rotate(-90)" font-size="6.6" font-weight="bold" fill="#222"><text x="0" y="-2.1" text-anchor="middle" textLength="78.0" lengthAdjust="spacingAndGlyphs">Lesion area/total vessel</text><text x="0" y="6.9" text-anchor="middle" textLength="77.0" lengthAdjust="spacingAndGlyphs">lumen in aortic root (%)</text></g>
</svg>
</body></html>
